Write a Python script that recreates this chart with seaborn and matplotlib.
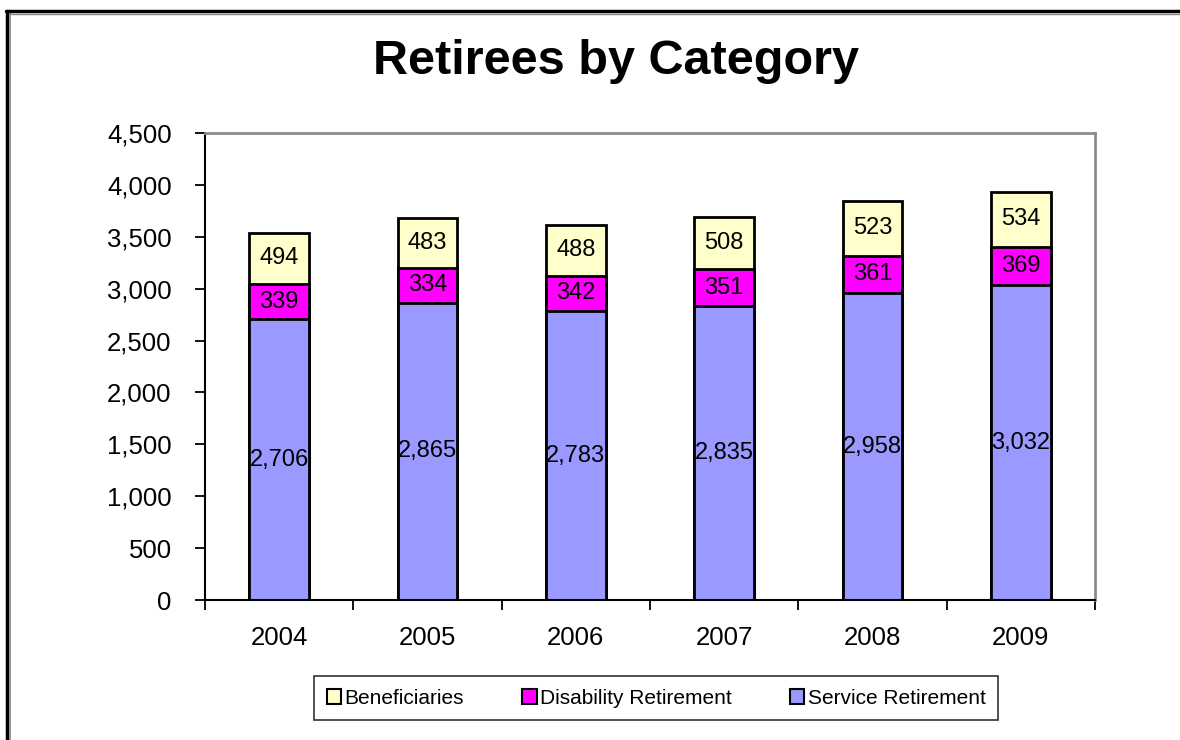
import matplotlib
matplotlib.use("Agg")
import matplotlib.pyplot as plt
from matplotlib.patches import Patch
from matplotlib.lines import Line2D
from matplotlib.ticker import FuncFormatter, FixedLocator, NullFormatter
import seaborn as sns
import numpy as np
import pandas as pd

years = ["2004", "2005", "2006", "2007", "2008", "2009"]
service = [2706, 2865, 2783, 2835, 2958, 3032]
disability = [339, 334, 342, 351, 361, 369]
beneficiaries = [494, 483, 488, 508, 523, 534]

c_service = "#9999FF"
c_dis = "#FF00FF"
c_ben = "#FFFFCC"

sns.set_theme(style="white")
plt.rcParams["font.family"] = ["Liberation Sans", "DejaVu Sans"]
plt.rcParams["text.color"] = "black"
plt.rcParams["xtick.color"] = "black"
plt.rcParams["ytick.color"] = "black"
plt.rcParams["axes.labelcolor"] = "black"

fig = plt.figure(figsize=(11.8, 7.4), dpi=100)
ax = fig.add_axes([205 / 1180, 1 - 600 / 740, 890 / 1180, 467 / 740])

df = pd.DataFrame({"year": years, "service": service,
                   "disability": disability, "beneficiaries": beneficiaries})
df["lvl2"] = df["service"] + df["disability"]
df["lvl3"] = df["lvl2"] + df["beneficiaries"]

common = dict(width=0.4, edgecolor="black", linewidth=2, ax=ax, order=years)
sns.barplot(data=df, x="year", y="lvl3", color=c_ben, saturation=1, **common)
sns.barplot(data=df, x="year", y="lvl2", color=c_dis, saturation=1, **common)
sns.barplot(data=df, x="year", y="service", color=c_service, saturation=1, **common)

# labels
lab_fs = 17
for i in range(len(years)):
    s, d, b = service[i], disability[i], beneficiaries[i]
    ax.text(i, s / 2, f"{s:,}", ha="center", va="center", fontsize=lab_fs, color="black")
    ax.text(i, s + d / 2, f"{d:,}", ha="center", va="center", fontsize=lab_fs, color="black")
    ax.text(i, s + d + b / 2, f"{b:,}", ha="center", va="center", fontsize=lab_fs, color="black")

ax.set_ylim(0, 4500)
ax.set_xlim(-0.5, len(years) - 0.5)
ax.set_yticks(np.arange(0, 4501, 500))
ax.yaxis.set_major_formatter(FuncFormatter(lambda v, p: f"{int(v):,}"))
ax.set_xlabel("")
ax.set_ylabel("")

# x ticks: labels at centers, tick marks at category boundaries
ax.set_xticks(range(len(years)))
ax.set_xticklabels(years)
ax.tick_params(axis="x", which="major", length=0, pad=19, labelsize=18.5, labelcolor="black")
ax.xaxis.set_minor_locator(FixedLocator(np.arange(-0.5, len(years), 1.0)))
ax.xaxis.set_minor_formatter(NullFormatter())
ax.tick_params(axis="x", which="minor", length=7, width=1.3, color="black", direction="out", bottom=True)
ax.tick_params(axis="y", length=7, width=1.3, color="black", direction="out", left=True,
               labelsize=18.5, pad=17, labelcolor="black")

for side in ["left", "bottom"]:
    ax.spines[side].set_color("black")
    ax.spines[side].set_linewidth(1.5)
for side in ["top", "right"]:
    ax.spines[side].set_color("#8c8c8c")
    ax.spines[side].set_linewidth(2)
    ax.spines[side].set_visible(True)

ax.grid(False)

fig.text(616 / 1180, 1 - 62 / 740, "Retirees by Category", ha="center", va="center",
         fontsize=35, fontweight="bold", color="black")

handles = [Patch(facecolor=c_ben, edgecolor="black", linewidth=1.5, label="Beneficiaries"),
           Patch(facecolor=c_dis, edgecolor="black", linewidth=1.5, label="Disability Retirement"),
           Patch(facecolor=c_service, edgecolor="black", linewidth=1.5, label="Service Retirement")]
leg = fig.legend(handles=handles, loc="center", bbox_to_anchor=(656 / 1180, 1 - 698 / 740),
                 ncol=3, fontsize=15, frameon=True, fancybox=False, edgecolor="black",
                 handlelength=0.7, handleheight=0.7, handletextpad=0.15, columnspacing=2.8,
                 borderpad=0.6, borderaxespad=0)
leg.get_frame().set_linewidth(1.2)
for t in leg.get_texts():
    t.set_color("black")

# outer frame (double line on left and top)
fig.add_artist(Line2D([7 / 1180, 7 / 1180], [0, 1 - 11 / 740], color="black", lw=2.5, transform=fig.transFigure))
fig.add_artist(Line2D([10 / 1180, 10 / 1180], [0, 1 - 13 / 740], color="#888888", lw=1.2, transform=fig.transFigure))
fig.add_artist(Line2D([6 / 1180, 1], [1 - 11 / 740, 1 - 11 / 740], color="black", lw=2.5, transform=fig.transFigure))
fig.add_artist(Line2D([10 / 1180, 1], [1 - 13.5 / 740, 1 - 13.5 / 740], color="#888888", lw=1.0, transform=fig.transFigure))

fig.savefig("out.png", dpi=100)
